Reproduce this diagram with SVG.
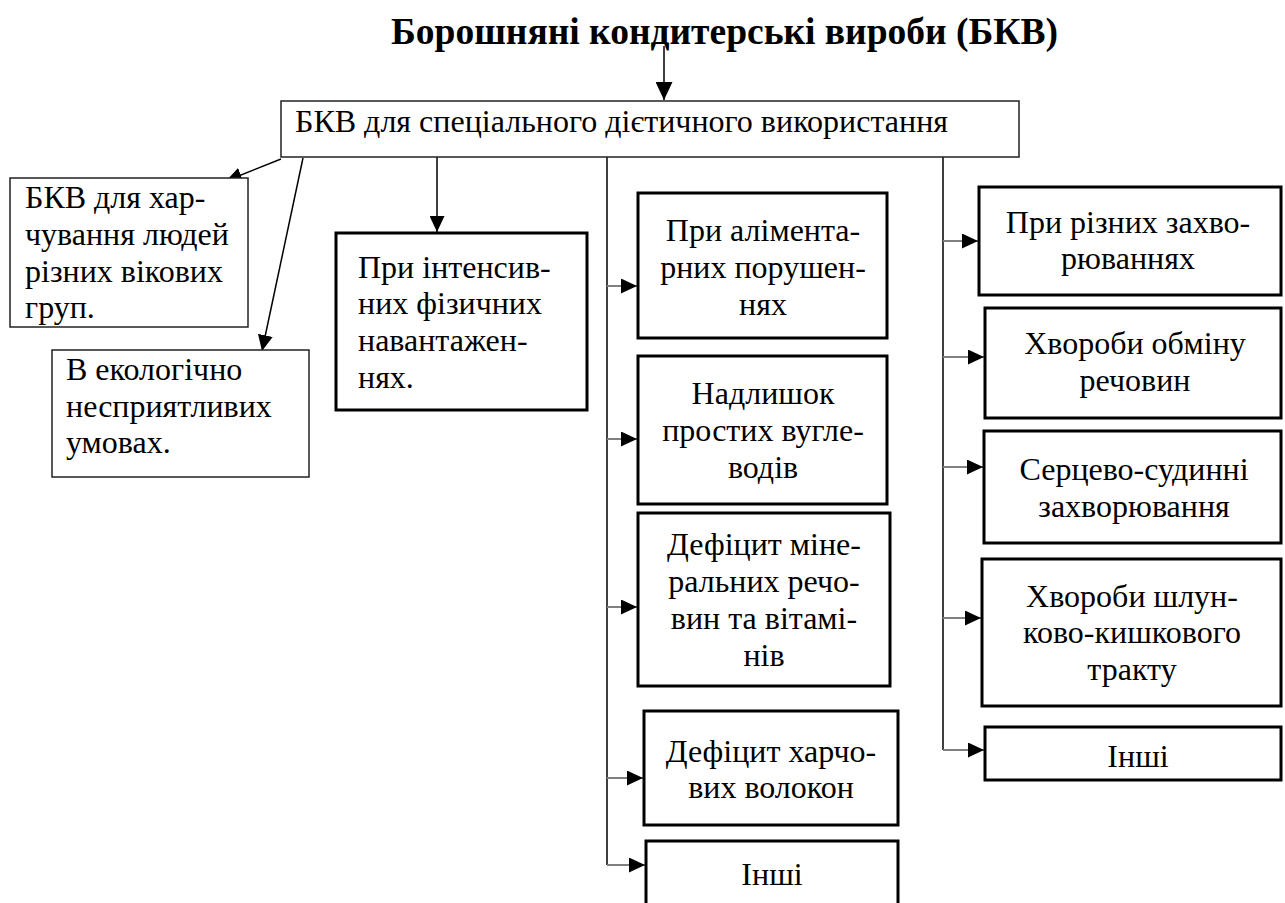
<svg xmlns="http://www.w3.org/2000/svg" width="1285" height="903" viewBox="0 0 1285 903">
<style>
.t{font-family:"Liberation Serif","Times New Roman",serif;font-size:32px;fill:#000}
.c{text-anchor:middle}
.title{font-family:"Liberation Serif","Times New Roman",serif;font-size:37px;font-weight:bold;fill:#000}
.thin{fill:#fff;stroke:#222;stroke-width:1.5}
.thick{fill:#fff;stroke:#000;stroke-width:3}
.ln{stroke:#000;stroke-width:1.5;fill:none}
.br{stroke:#808080;stroke-width:2;fill:none}
</style>
<defs>
<marker id="ah" markerWidth="16" markerHeight="15" refX="16" refY="7.5" orient="auto" markerUnits="userSpaceOnUse"><path d="M0,0 L16,7.5 L0,15 z" fill="#000"/></marker>
<marker id="ahb" markerWidth="18" markerHeight="17" refX="18" refY="8.5" orient="auto" markerUnits="userSpaceOnUse"><path d="M0,0 L18,8.5 L0,17 z" fill="#000"/></marker>
</defs>
<rect width="1285" height="903" fill="#fff"/>
<text class="title" x="391" y="44" textLength="667" lengthAdjust="spacingAndGlyphs">Борошняні кондитерські вироби (БКВ)</text>

<g id="connectors">
<line class="ln" x1="664" y1="46" x2="664" y2="100" marker-end="url(#ahb)"/>
<line class="ln" x1="281" y1="159" x2="226" y2="181" marker-end="url(#ah)"/>
<line class="ln" x1="303" y1="158" x2="262" y2="351" marker-end="url(#ah)"/>
<line class="ln" x1="437" y1="157" x2="437" y2="232" marker-end="url(#ah)"/>
<line class="ln" x1="607" y1="156" x2="607" y2="865"/>
<line class="ln" x1="943" y1="156" x2="943" y2="750"/>
<line class="br" x1="607" y1="286" x2="637" y2="286" marker-end="url(#ah)"/>
<line class="br" x1="607" y1="439" x2="637" y2="439" marker-end="url(#ah)"/>
<line class="br" x1="607" y1="607" x2="637" y2="607" marker-end="url(#ah)"/>
<line class="br" x1="607" y1="778" x2="643" y2="778" marker-end="url(#ah)"/>
<line class="br" x1="607" y1="865" x2="645" y2="865" marker-end="url(#ah)"/>
<line class="br" x1="943" y1="241" x2="978" y2="241" marker-end="url(#ah)"/>
<line class="br" x1="943" y1="357" x2="984" y2="357" marker-end="url(#ah)"/>
<line class="br" x1="943" y1="467" x2="983" y2="467" marker-end="url(#ah)"/>
<line class="br" x1="943" y1="618" x2="981" y2="618" marker-end="url(#ah)"/>
<line class="br" x1="943" y1="750" x2="984" y2="750" marker-end="url(#ah)"/>
</g>

<g id="main">
<rect class="thin" x="281" y="101" width="738" height="56"/>
<text class="t" x="295" y="132" textLength="653" lengthAdjust="spacingAndGlyphs">БКВ для спеціального дієтичного використання</text>
</g>

<g id="age">
<rect class="thin" x="10" y="178" width="238" height="149"/>
<text class="t" x="25" y="208">БКВ для хар-</text>
<text class="t" x="25" y="245">чування людей</text>
<text class="t" x="25" y="282">різних вікових</text>
<text class="t" x="25" y="318">груп.</text>
</g>

<g id="eco">
<rect class="thin" x="52" y="350" width="257" height="127"/>
<text class="t" x="66" y="380">В екологічно</text>
<text class="t" x="66" y="417">несприятливих</text>
<text class="t" x="66" y="453">умовах.</text>
</g>

<g id="physical">
<rect class="thick" x="336" y="233" width="251" height="177"/>
<text class="t" x="358" y="278">При інтенсив-</text>
<text class="t" x="358" y="314">них фізичних</text>
<text class="t" x="358" y="351">навантажен-</text>
<text class="t" x="358" y="388">нях.</text>
</g>

<g id="alimentary">
<rect class="thick" x="638" y="193" width="249" height="145"/>
<text class="t c" x="763" y="241">При алімента-</text>
<text class="t c" x="763" y="278">рних порушен-</text>
<text class="t c" x="763" y="315">нях</text>
</g>

<g id="carbs">
<rect class="thick" x="638" y="356" width="249" height="148"/>
<text class="t c" x="763" y="404">Надлишок</text>
<text class="t c" x="763" y="441">простих вугле-</text>
<text class="t c" x="763" y="478">водів</text>
</g>

<g id="minerals">
<rect class="thick" x="638" y="513" width="252" height="173"/>
<text class="t c" x="764" y="555">Дефіцит міне-</text>
<text class="t c" x="764" y="592">ральних речо-</text>
<text class="t c" x="764" y="629">вин та вітамі-</text>
<text class="t c" x="764" y="666">нів</text>
</g>

<g id="fiber">
<rect class="thick" x="644" y="711" width="254" height="114"/>
<text class="t c" x="771" y="762">Дефіцит харчо-</text>
<text class="t c" x="771" y="798">вих волокон</text>
</g>

<g id="other1">
<rect class="thick" x="646" y="841" width="252" height="80"/>
<text class="t c" x="772" y="885">Інші</text>
</g>

<g id="diseases">
<rect class="thick" x="979" y="187" width="302" height="108"/>
<text class="t c" x="1128" y="233">При різних захво-</text>
<text class="t c" x="1128" y="269">рюваннях</text>
</g>

<g id="metabolic">
<rect class="thick" x="985" y="308" width="296" height="110"/>
<text class="t c" x="1135" y="354">Хвороби обміну</text>
<text class="t c" x="1135" y="391">речовин</text>
</g>

<g id="cardio">
<rect class="thick" x="984" y="431" width="297" height="112"/>
<text class="t c" x="1134" y="480">Серцево-судинні</text>
<text class="t c" x="1134" y="517">захворювання</text>
</g>

<g id="gastro">
<rect class="thick" x="982" y="559" width="299" height="147"/>
<text class="t c" x="1132" y="607">Хвороби шлун-</text>
<text class="t c" x="1132" y="643">ково-кишкового</text>
<text class="t c" x="1132" y="680">тракту</text>
</g>

<g id="other2">
<rect class="thick" x="985" y="727" width="296" height="53"/>
<text class="t c" x="1138" y="767">Інші</text>
</g>
</svg>
